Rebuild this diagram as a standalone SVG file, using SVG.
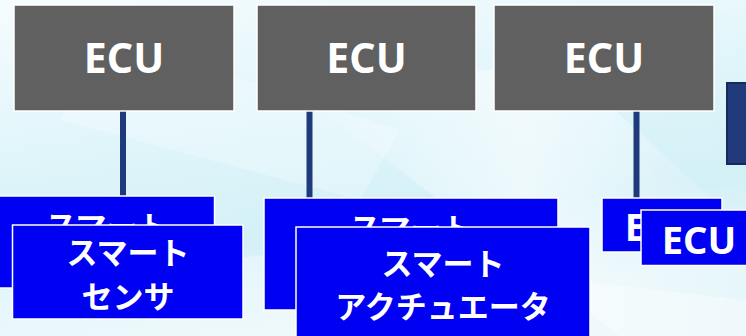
<svg xmlns="http://www.w3.org/2000/svg" width="746" height="336" viewBox="0 0 746 336">
<defs>
<linearGradient id="bg" x1="0" y1="0" x2="0.3" y2="1">
<stop offset="0" stop-color="#f6fcfe"/>
<stop offset="0.45" stop-color="#dff5fa"/>
<stop offset="0.75" stop-color="#d3f0f7"/>
<stop offset="1" stop-color="#e6f6fa"/>
</linearGradient>
<linearGradient id="streak" x1="0" y1="0" x2="1" y2="0">
<stop offset="0" stop-color="#ffffff" stop-opacity="0"/>
<stop offset="0.5" stop-color="#ffffff" stop-opacity="0.85"/>
<stop offset="1" stop-color="#ffffff" stop-opacity="0"/>
</linearGradient>
<style>
.ecu rect{fill:#606060;stroke:#ffffff;stroke-width:1.5}
.blue rect{fill:#0000f2;stroke:#ffffff;stroke-width:1.5}
.t{fill:#ffffff;font-family:"Noto Sans","Noto Sans CJK JP",sans-serif;font-weight:bold;text-anchor:middle}
.big{font-size:41px}
.mid{font-size:38px}
.jp{font-family:"Noto Sans CJK JP",sans-serif;font-size:31px;font-weight:bold}
.conn line{stroke:#1f3a7a;stroke-width:6}
</style>
</defs>
<rect width="746" height="336" fill="url(#bg)"/>
<polygon points="300,95 560,60 746,230 746,336 620,336" fill="url(#streak)" opacity="0.7"/>
<polygon points="0,290 300,250 746,300 746,336 0,336" fill="#ffffff" opacity="0.35"/>
<polygon points="120,40 400,130 360,200 60,120" fill="#ffffff" opacity="0.25"/>

<g id="navy">
<rect x="727" y="83" width="30" height="81" fill="#213a7c" stroke="#162a5e" stroke-width="2"/>
</g>

<g class="conn" id="connectors">
<line x1="123" y1="111" x2="123" y2="196"/>
<line x1="309.5" y1="111" x2="309.5" y2="198"/>
<line x1="636.5" y1="111" x2="636.5" y2="198"/>
</g>

<g class="ecu" id="ecu1">
<rect x="14" y="5" width="220" height="106"/>
<text class="t big" x="124" y="73">ECU</text>
</g>
<g class="ecu" id="ecu2">
<rect x="257" y="5" width="219" height="106"/>
<text class="t big" x="366.5" y="73">ECU</text>
</g>
<g class="ecu" id="ecu3">
<rect x="494" y="5" width="220" height="106"/>
<text class="t big" x="604" y="73">ECU</text>
</g>

<g class="blue" id="sensor-back">
<rect x="-5" y="196" width="219.5" height="92"/>
<text class="t jp" x="107" y="238">スマート</text>
</g>
<g class="blue" id="sensor-front">
<rect x="12.5" y="225" width="230.5" height="94"/>
<text class="t jp" x="128" y="264">スマート</text>
<text class="t jp" x="128" y="308">センサ</text>
</g>

<g class="blue" id="actuator-back">
<rect x="264" y="198" width="294" height="112"/>
<text class="t jp" x="411" y="240">スマート</text>
</g>
<g class="blue" id="actuator-front">
<rect x="296" y="227" width="294" height="115"/>
<text class="t jp" x="443" y="275">スマート</text>
<text class="t jp" x="443" y="318">アクチュエータ</text>
</g>

<g class="blue" id="ecu-back">
<rect x="602" y="198" width="120" height="54"/>
<text class="t mid" x="662" y="241">ECU</text>
</g>
<g class="blue" id="ecu-front">
<rect x="641" y="210" width="116" height="55.5"/>
<text class="t mid" x="699" y="254">ECU</text>
</g>
</svg>
